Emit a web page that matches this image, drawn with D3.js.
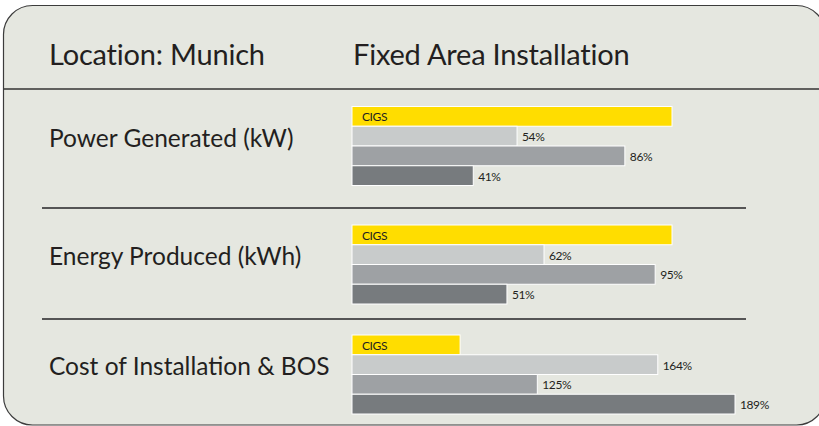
<!DOCTYPE html>
<html lang="en">
<head>
  <meta charset="UTF-8">
  <title>Fixed Area Installation - Munich</title>
  <style>
    body { margin: 0; background: #fff; }
    text { font-family: Lato, "Open Sans", sans-serif; fill: #231f20; }
  </style>
</head>
<body>
  <script src="https://d3js.org/d3.v7.min.js"></script>
  <div id="chart"></div>

  <script>
    // data
    const location_ = 'Location: Munich'
    const title = 'Fixed Area Installation'
    const categories = ['Power Generated (kW)', 'Energy Produced (kWh)', 'Cost of Installation & BOS']
    const seriesNames = ['CIGS', '', '', '']
    const powerGenerated = [100, 54, 86, 41]
    const energyProduced = [100, 62, 95, 51]
    const installCost = [100, 164, 125, 189]
    // each block has its own (truncated) value axis in the original
    const axisMin = [5, 5, 65]
    const axisMax = [100, 100, 189]

    const values = [powerGenerated, energyProduced, installCost]
    const colors = ['#ffdd00', '#c8cbcb', '#9ea1a4', '#777b7e']

    // layout
    const W = 819, H = 426
    const barX = 352
    const barSpan = [320, 320, 383]
    const rowTop = [106.5, 225, 335]
    const rowH = 79
    const sepY = [208, 319]

    const svg = d3.select('#chart')
      .append('svg')
      .attr('width', W)
      .attr('height', H)

    // panel with rounded corners
    svg.append('rect')
      .attr('x', 3.5)
      .attr('y', 5.5)
      .attr('width', 822)
      .attr('height', 419.5)
      .attr('rx', 29)
      .attr('fill', '#e5e7e0')
      .attr('stroke', '#3c3c3c')
      .attr('stroke-width', 1.2)

    svg.append('line')
      .attr('x1', 4).attr('x2', W)
      .attr('y1', 89).attr('y2', 89)
      .attr('stroke', '#333')
      .attr('stroke-width', 1.3)

    svg.append('text')
      .attr('x', 49).attr('y', 65)
      .attr('font-size', 29)
      .attr('letter-spacing', -0.2)
      .text(location_)

    svg.append('text')
      .attr('x', 353).attr('y', 65)
      .attr('font-size', 29)
      .attr('letter-spacing', -0.2)
      .text(title)

    svg.selectAll('line.sep')
      .data(sepY)
      .join('line')
      .attr('class', 'sep')
      .attr('x1', 42).attr('x2', 746)
      .attr('y1', d => d).attr('y2', d => d)
      .attr('stroke', '#555')
      .attr('stroke-width', 2)

    const blocks = svg.selectAll('g.block')
      .data(categories)
      .join('g')
      .attr('class', 'block')

    blocks.append('text')
      .attr('x', 49)
      .attr('y', (d, i) => rowTop[i] + 40)
      .attr('font-size', 24.5)
      .text(d => d)

    blocks.each(function (cat, i) {
      const g = d3.select(this)
      const x = d3.scaleLinear()
        .domain([axisMin[i], axisMax[i]])
        .range([barX, barX + barSpan[i]])
      const y = d3.scaleBand()
        .domain(d3.range(values[i].length))
        .range([rowTop[i], rowTop[i] + rowH])

      const rows = values[i].map((v, j) => ({ v, j }))

      g.selectAll('rect')
        .data(rows)
        .join('rect')
        .attr('x', barX)
        .attr('y', d => y(d.j))
        .attr('width', d => x(d.v) - barX)
        .attr('height', y.bandwidth())
        .attr('fill', d => colors[d.j])
        .attr('stroke', '#fff')
        .attr('stroke-width', 1)

      // series name inside the first bar, percent after the others
      g.selectAll('text.lbl')
        .data(rows)
        .join('text')
        .attr('class', 'lbl')
        .attr('x', d => d.j === 0 ? barX + 10 : x(d.v) + 5)
        .attr('y', d => y(d.j) + y.bandwidth() / 2 + 5)
        .attr('font-size', 12)
        .attr('letter-spacing', -0.4)
        .text(d => d.j === 0 ? seriesNames[0] : d.v + '%')
    })
  </script>
</body>
</html>
